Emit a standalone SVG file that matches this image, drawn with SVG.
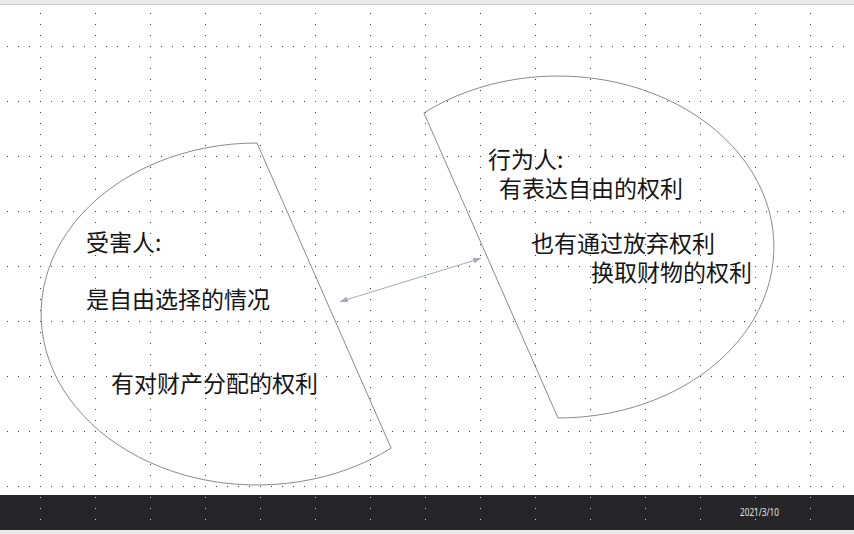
<svg xmlns="http://www.w3.org/2000/svg" width="854" height="534" viewBox="0 0 854 534">
  <style>
    .shape { fill: none; stroke: #8a8a8a; stroke-width: 1; }
    .lbl { font-family: "Noto Sans CJK SC", "Noto Sans", sans-serif; font-size: 23px; fill: #151515; }
    .conn { stroke: #a3abba; stroke-width: 1; fill: none; }
    .date { font-family: "Noto Sans", "Liberation Sans", sans-serif; font-size: 10px; fill: #e2e2e2; }
  </style>
  <defs>
    <pattern id="gridDark" patternUnits="userSpaceOnUse" x="-15" y="-9" width="55" height="55">
      <rect x="0" y="0" width="1" height="1" fill="#3a3a3a"/>
      <rect x="11" y="0" width="1" height="1" fill="#3a3a3a"/>
      <rect x="22" y="0" width="1" height="1" fill="#3a3a3a"/>
      <rect x="33" y="0" width="1" height="1" fill="#3a3a3a"/>
      <rect x="44" y="0" width="1" height="1" fill="#3a3a3a"/>
      <rect x="0" y="11" width="1" height="1" fill="#3a3a3a"/>
      <rect x="0" y="22" width="1" height="1" fill="#3a3a3a"/>
      <rect x="0" y="33" width="1" height="1" fill="#3a3a3a"/>
      <rect x="0" y="44" width="1" height="1" fill="#3a3a3a"/>
    </pattern>
    <pattern id="gridLight" patternUnits="userSpaceOnUse" x="-15" y="-9" width="55" height="55">
      <rect x="0" y="0" width="1" height="1" fill="#d0d0d0"/>
      <rect x="11" y="0" width="1" height="1" fill="#d0d0d0"/>
      <rect x="22" y="0" width="1" height="1" fill="#d0d0d0"/>
      <rect x="33" y="0" width="1" height="1" fill="#d0d0d0"/>
      <rect x="44" y="0" width="1" height="1" fill="#d0d0d0"/>
      <rect x="0" y="11" width="1" height="1" fill="#d0d0d0"/>
      <rect x="0" y="22" width="1" height="1" fill="#d0d0d0"/>
      <rect x="0" y="33" width="1" height="1" fill="#d0d0d0"/>
      <rect x="0" y="44" width="1" height="1" fill="#d0d0d0"/>
    </pattern>
    <marker id="arrow" viewBox="0 0 8 6" refX="8" refY="3" markerUnits="userSpaceOnUse" markerWidth="8" markerHeight="6" orient="auto-start-reverse">
      <path d="M0,0 L8,3 L0,6 z" fill="#a3abba"/>
    </marker>
  </defs>

  <!-- background -->
  <rect x="0" y="0" width="854" height="534" fill="#ffffff"/>
  <rect x="0" y="0" width="854" height="495" fill="url(#gridDark)"/>
  <rect x="0" y="0" width="854" height="4" fill="#ebebeb"/>
  <rect x="0" y="4" width="854" height="1" fill="#cfcfcf"/>
  <rect x="0" y="495" width="854" height="35" fill="#262628"/>
  <rect x="0" y="495" width="854" height="35" fill="url(#gridLight)"/>
  <rect x="0" y="530" width="854" height="4" fill="#e8e8e8"/>

  <!-- left node -->
  <g id="victim">
    <path class="shape" d="M257,143 A216,171 0 1 0 391.1,448.1 Z"/>
    <text class="lbl" x="86" y="251">受害人:</text>
    <text class="lbl" x="86" y="307.5">是自由选择的情况</text>
    <text class="lbl" x="111" y="392">有对财产分配的权利</text>
  </g>

  <!-- right node -->
  <g id="actor">
    <path class="shape" d="M558,418 A216,171 0 1 0 423.9,112.9 Z"/>
    <text class="lbl" x="488" y="168">行为人:</text>
    <text class="lbl" x="499" y="197">有表达自由的权利</text>
    <text class="lbl" x="531" y="252">也有通过放弃权利</text>
    <text class="lbl" x="591" y="281">换取财物的权利</text>
  </g>

  <!-- connectors -->
  <g id="connectors">
    <line class="conn" x1="340" y1="301.7" x2="481" y2="258.3" marker-start="url(#arrow)" marker-end="url(#arrow)"/>
  </g>

  <g id="footer">
    <text class="date" x="740" y="516" textLength="39" lengthAdjust="spacingAndGlyphs">2021/3/10</text>
  </g>
</svg>
